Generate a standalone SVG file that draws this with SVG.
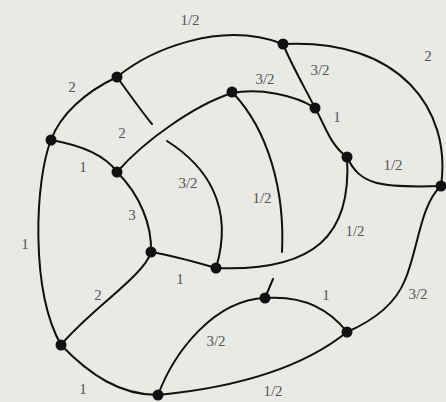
<svg xmlns="http://www.w3.org/2000/svg" width="446" height="402" viewBox="0 0 446 402">
<style>
.e{fill:none;stroke:#111;stroke-width:2;stroke-linecap:round}
.n{fill:#111}
text{font-family:"Liberation Serif","Times New Roman",serif;font-size:15px;fill:#555;text-anchor:middle;dominant-baseline:central}
</style>
<rect width="446" height="402" fill="#e9e9e6"/>
<g id="edges">
<path class="e" d="M117,77 C150,50 220,20 283,44"/>
<path class="e" d="M117,77 C85,92 60,115 51,140"/>
<path class="e" d="M283,44 C400,38 452,110 441,186"/>
<path class="e" d="M283,44 C292,66 305,88 315,108"/>
<path class="e" d="M117,77 C130,95 142,112 152,124"/>
<path class="e" d="M167,141 C205,165 235,205 216,268"/>
<path class="e" d="M51,140 C80,145 105,155 117,172"/>
<path class="e" d="M117,172 C145,140 195,105 232,93"/>
<path class="e" d="M117,172 C140,195 152,225 151,252"/>
<path class="e" d="M51,140 C35,180 30,290 61,345"/>
<path class="e" d="M232,93 C260,88 295,95 315,108"/>
<path class="e" d="M233,93 C268,130 285,190 282,252"/>
<path class="e" d="M315,108 C325,125 330,145 347,157"/>
<path class="e" d="M347,157 C360,185 380,188 441,186"/>
<path class="e" d="M347,157 C352,235 315,272 216,268"/>
<path class="e" d="M441,186 C420,205 418,250 405,280 C395,305 370,322 347,332"/>
<path class="e" d="M151,252 C175,256 195,262 216,268"/>
<path class="e" d="M151,252 C145,275 90,310 61,345"/>
<path class="e" d="M265,298 C305,295 330,310 347,332"/>
<path class="e" d="M265,298 C215,300 175,350 158,395"/>
<path class="e" d="M265,298 L273,279"/>
<path class="e" d="M61,345 C90,375 120,395 158,395"/>
<path class="e" d="M158,395 C230,388 300,370 347,332"/>
</g>
<g id="nA"><circle class="n" cx="117" cy="77" r="5.5"/></g>
<g id="nB"><circle class="n" cx="283" cy="44" r="5.5"/></g>
<g id="nC"><circle class="n" cx="51" cy="140" r="5.5"/></g>
<g id="nD"><circle class="n" cx="117" cy="172" r="5.5"/></g>
<g id="nE"><circle class="n" cx="232" cy="92" r="5.5"/></g>
<g id="nF"><circle class="n" cx="315" cy="108" r="5.5"/></g>
<g id="nG"><circle class="n" cx="347" cy="157" r="5.5"/></g>
<g id="nH"><circle class="n" cx="441" cy="186" r="5.5"/></g>
<g id="nI"><circle class="n" cx="151" cy="252" r="5.5"/></g>
<g id="nJ"><circle class="n" cx="216" cy="268" r="5.5"/></g>
<g id="nK"><circle class="n" cx="265" cy="298" r="5.5"/></g>
<g id="nL"><circle class="n" cx="347" cy="332" r="5.5"/></g>
<g id="nM"><circle class="n" cx="61" cy="345" r="5.5"/></g>
<g id="nN"><circle class="n" cx="158" cy="395" r="5.5"/></g>
<g id="labels">
<text x="190" y="20">1/2</text>
<text x="72" y="87">2</text>
<text x="265" y="79">3/2</text>
<text x="320" y="70">3/2</text>
<text x="428" y="56">2</text>
<text x="337" y="117">1</text>
<text x="393" y="165">1/2</text>
<text x="122" y="133">2</text>
<text x="83" y="167">1</text>
<text x="188" y="183">3/2</text>
<text x="262" y="198">1/2</text>
<text x="132" y="215">3</text>
<text x="355" y="231">1/2</text>
<text x="180" y="279">1</text>
<text x="98" y="295">2</text>
<text x="25" y="244">1</text>
<text x="83" y="389">1</text>
<text x="216" y="341">3/2</text>
<text x="326" y="295">1</text>
<text x="418" y="294">3/2</text>
<text x="273" y="391">1/2</text>
</g>
</svg>
